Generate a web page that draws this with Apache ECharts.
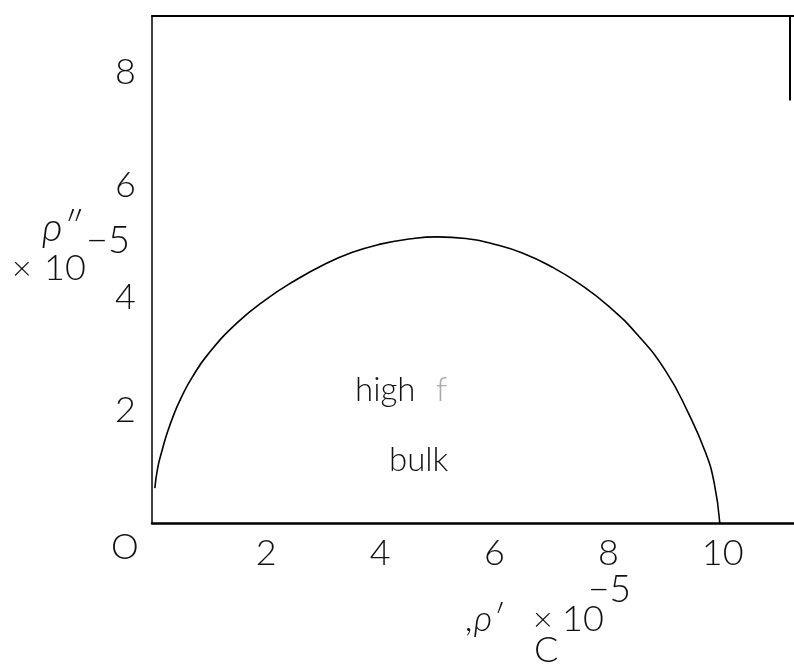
<!DOCTYPE html>
<html>
<head>
<meta charset="utf-8">
<script src="https://cdn.jsdelivr.net/npm/echarts@6/dist/echarts.min.js"></script>
<style>
  html, body { margin: 0; padding: 0; background: #fff; }
  #chart { width: 794px; height: 670px; }
</style>
</head>
<body>
<div id="chart"></div>
<script>
// Real part ρ′ (×10⁻⁵) of the high-frequency bulk arc
var rhoReal = [0.05, 0.1, 0.18, 0.26, 0.38, 0.5, 0.7, 1.0, 1.5, 2.0, 2.5, 3.0, 3.5, 4.0, 4.5, 5.0,
               5.5, 6.0, 6.5, 7.0, 7.5, 8.0, 8.5, 9.0, 9.4, 9.7, 9.85, 9.95];
// Imaginary part ρ″ (×10⁻⁵) at the same points
var rhoImag = [0.62, 0.98, 1.3, 1.58, 1.92, 2.2, 2.58, 3.02, 3.56, 3.97, 4.3, 4.58, 4.8, 4.95, 5.04, 5.08,
               5.05, 4.95, 4.79, 4.55, 4.24, 3.85, 3.35, 2.7, 1.95, 1.25, 0.72, 0.0];
var xTicks = [2, 4, 6, 8, 10];
var yTicks = [2, 4, 6, 8];

var FONT = 'Lato';
var arc = rhoReal.map(function (x, i) { return [x, rhoImag[i]]; });

function txt(str, left, top, size, extra) {
  return {
    type: 'text', left: left, top: top,
    style: Object.assign({ text: str, font: '300 ' + size + 'px ' + FONT, fill: '#111' }, extra || {})
  };
}

var chart = echarts.init(document.getElementById('chart'));
chart.setOption({
  animation: false,
  backgroundColor: '#fff',
  grid: { left: 152, right: 0, top: 16, bottom: 147 },
  xAxis: [{
    type: 'value', min: 0, max: 11.25, interval: 2,
    axisLine: { show: true, lineStyle: { color: '#000', width: 2.5 } },
    axisTick: { show: false },
    splitLine: { show: false },
    axisLabel: {
      margin: 12, color: '#111', fontFamily: FONT, fontWeight: 300, fontSize: 36,
      showMaxLabel: false,
      formatter: function (v) { return xTicks.indexOf(v) >= 0 ? String(v) : ''; }
    }
  }, {
    type: 'value', position: 'top', min: 0, max: 11.18,
    axisLine: { show: true, onZero: false, lineStyle: { color: '#000', width: 2 } },
    axisTick: { show: false }, axisLabel: { show: false }, splitLine: { show: false }
  }],
  yAxis: {
    type: 'value', min: 0, max: 9, interval: 2,
    axisLine: { show: true, lineStyle: { color: '#000', width: 1.5 } },
    axisTick: { show: false },
    splitLine: { show: false },
    axisLabel: {
      margin: 16, color: '#111', fontFamily: FONT, fontWeight: 300, fontSize: 36,
      formatter: function (v) { return yTicks.indexOf(v) >= 0 ? String(v) : ''; }
    }
  },
  series: [{
    type: 'line',
    data: arc,
    smooth: 0.5,
    showSymbol: false,
    lineStyle: { color: '#000', width: 1.6 },
    markLine: {
      silent: true, symbol: 'none', label: { show: false },
      lineStyle: { color: '#000', width: 2, type: 'solid' },
      data: [[{ coord: [11.18, 9] }, { coord: [11.18, 7.5] }]]
    }
  }],
  graphic: [
    // origin label
    txt('O', 111, 530, 35),
    // vertical axis title: ρ″ × 10⁻⁵
    txt('ρ″', 42, 208, 40, { font: 'italic 300 40px ' + FONT }),
    txt('×', 12, 252, 34),
    txt('10', 44, 250, 36),
    txt('−5', 86, 222, 38),
    // annotations inside the plot
    txt('high', 355, 374, 33),
    txt('f', 436, 374, 33, { fill: '#aaa' }),
    txt('bulk', 389, 444, 33),
    // horizontal axis title: ρ′ × 10⁻⁵
    txt(',ρ′', 466, 601, 36, { font: 'italic 300 36px ' + FONT }),
    txt('×', 533, 603, 34),
    txt('10', 562, 601, 36),
    txt('−5', 588, 572, 37),
    txt('C', 534, 632, 36)
  ]
});
</script>
</body>
</html>
